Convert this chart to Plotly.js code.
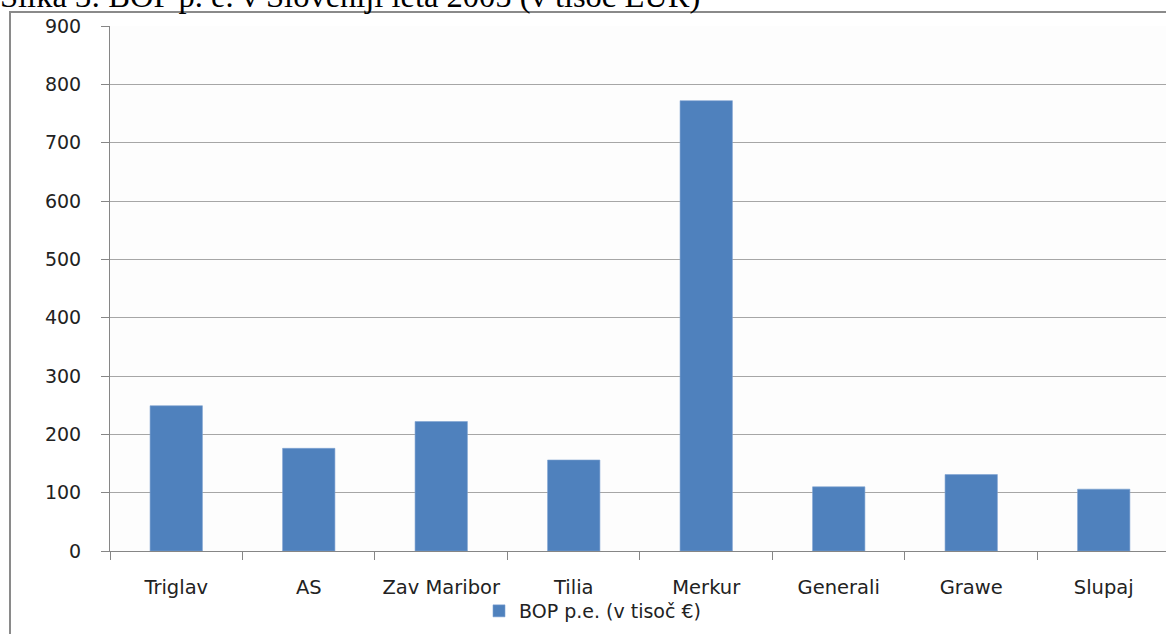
<!DOCTYPE html>
<html>
<head>
<meta charset="utf-8">
<script src="https://cdn.plot.ly/plotly-3.0.1.min.js"></script>
<style>html,body{margin:0;padding:0;background:#fff;}#chart{width:1166px;height:634px;}</style>
</head>
<body>
<div id="chart"></div>
<script>
const categories = ["Triglav", "AS", "Zav Maribor", "Tilia", "Merkur", "Generali", "Grawe", "Slupaj"];
const bopValues = [249, 176, 222, 156, 772, 110, 131, 106];
const seriesName = "BOP p.e. (v tisoč €)";
const chartTitle = "Slika 3: BOP p. e. v Sloveniji leta 2005 (v tisoč EUR)";

const W = 1166, H = 634, L = 110, R = 0, T = 26, B = 83;
const pw = W - L - R, ph = H - T - B;
const px = x => (x - L) / pw;
const py = y => (H - B - y) / ph;

const trace = {
  type: "bar",
  x: categories,
  y: bopValues,
  name: seriesName,
  marker: {color: "#4f81bd", line: {color: "#7da2d2", width: 0.6}},
  width: 0.395,
  showlegend: true
};

const layout = {
  width: W, height: H,
  margin: {l: L, r: R, t: T, b: B, pad: 0},
  paper_bgcolor: "#ffffff",
  plot_bgcolor: "#fdfdfd",
  font: {family: "'DejaVu Sans', sans-serif", size: 19, color: "#222"},
  xaxis: {
    type: "category",
    range: [-0.5, 7.47],
    tickson: "boundaries",
    ticks: "outside", ticklen: 8, tickcolor: "#868686", tickwidth: 1,
    showgrid: false,
    showline: true, linecolor: "#868686", linewidth: 1,
    ticklabelstandoff: 19,
    tickfont: {size: 19.5, color: "#222"}
  },
  yaxis: {
    range: [0, 900], dtick: 100, tick0: 0,
    ticks: "outside", ticklen: 8, tickcolor: "#868686",
    showgrid: true, gridcolor: "#a6a6a6", gridwidth: 1,
    showline: true, linecolor: "#868686", linewidth: 1,
    zeroline: false,
    ticklabelstandoff: 16,
    tickfont: {size: 19, color: "#222"}
  },
  showlegend: true,
  legend: {
    orientation: "h",
    x: px(479), xanchor: "left",
    y: py(611), yanchor: "middle",
    font: {size: 19, color: "#222"},
    bgcolor: "rgba(0,0,0,0)",
    itemwidth: 30
  },
  shapes: [
    {type: "rect", xref: "paper", yref: "paper",
     x0: px(10), x1: px(1200), y0: py(700), y1: py(12),
     line: {color: "#8a8a8a", width: 2}, fillcolor: "rgba(0,0,0,0)", layer: "below"}
  ],
  annotations: [
    {text: chartTitle, xref: "paper", yref: "paper",
     x: px(-2), xanchor: "left", y: py(-4), yanchor: "middle",
     showarrow: false,
     font: {family: "'Liberation Serif', 'Times New Roman', serif", size: 32.5, color: "#000"}}
  ]
};

Plotly.newPlot("chart", [trace], layout, {displayModeBar: false, staticPlot: true});
</script>
</body>
</html>
